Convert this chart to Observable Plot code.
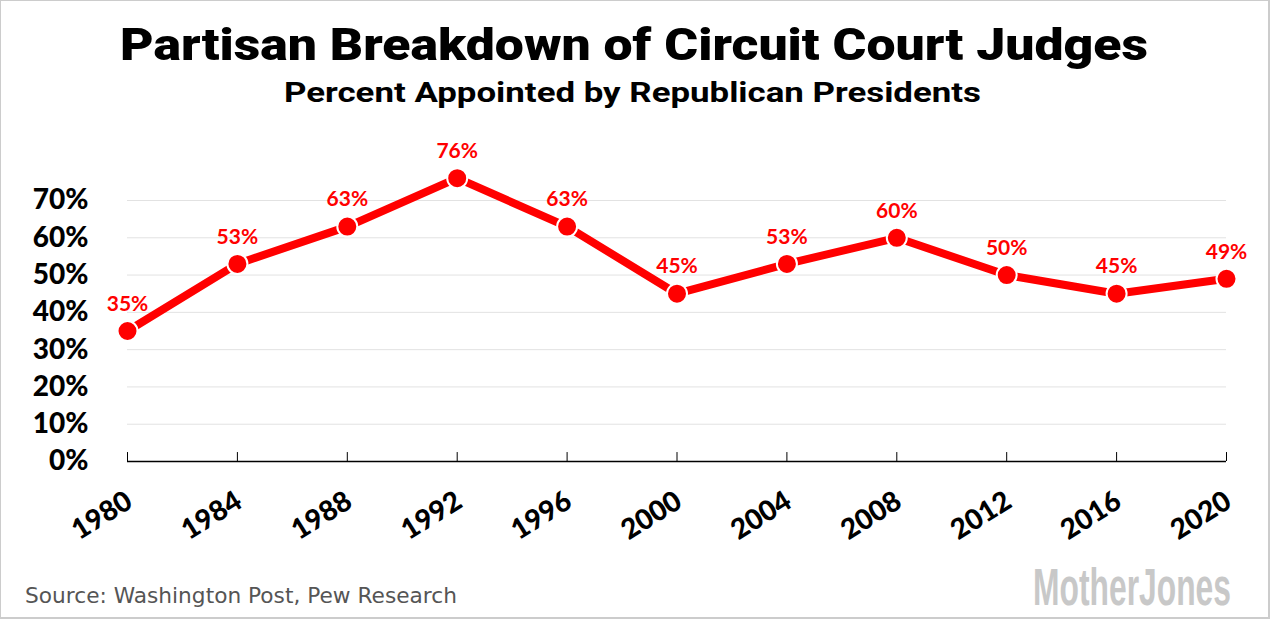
<!DOCTYPE html>
<html>
<head>
<meta charset="utf-8">
<script src="https://cdn.jsdelivr.net/npm/d3@7"></script>
<script src="https://cdn.jsdelivr.net/npm/@observablehq/plot@0.6"></script>
<style>
html, body { margin: 0; padding: 0; background: #fff; }
#wrap { position: relative; width: 1270px; height: 619px; overflow: hidden; background: #fff; }
#border { position: absolute; left: 0; top: 0; width: 1270px; height: 619px; box-sizing: border-box; border: 1px solid #cccccc; border-right-width: 2px; border-bottom-width: 2px; pointer-events: none; }
#head, #plot, #foot { position: absolute; left: 0; }
#head { top: 0; }
#plot { top: 130px; }
#foot { top: 550px; }
svg { display: block; }
</style>
</head>
<body>
<div id="wrap">
  <svg id="head" width="1270" height="130">
    <text x="120" y="60" font-family="Roboto" font-weight="900" font-size="45" fill="#000" textLength="1028" lengthAdjust="spacingAndGlyphs">Partisan Breakdown of Circuit Court Judges</text>
    <text x="284" y="102" font-family="Roboto" font-weight="700" font-size="28" fill="#000" textLength="697" lengthAdjust="spacingAndGlyphs">Percent Appointed by Republican Presidents</text>
  </svg>
  <div id="plot"></div>
  <svg id="foot" width="1270" height="69">
    <text x="25" y="53" font-family="DejaVu Sans" font-size="20.5" fill="#555" textLength="432" lengthAdjust="spacingAndGlyphs">Source: Washington Post, Pew Research</text>
    <text id="logo" font-family="Liberation Sans Narrow, Liberation Sans" font-weight="700" font-size="51" fill="#c8c8c8">MotherJones</text>
  </svg>
  <div id="border"></div>
</div>
<script>
const years = [1980, 1984, 1988, 1992, 1996, 2000, 2004, 2008, 2012, 2016, 2020];
const pct = [35, 53, 63, 76, 63, 45, 53, 60, 50, 45, 49];
const yTicks = [0, 10, 20, 30, 40, 50, 60, 70];

const data = years.map((y, i) => ({year: y, pct: pct[i]}));

const chart = Plot.plot({
  width: 1270,
  height: 420,
  marginLeft: 127,
  marginRight: 44,
  marginTop: 70,
  marginBottom: 89,
  x: {domain: [1980, 2020], axis: null},
  y: {domain: [0, 70], axis: null},
  style: {fontFamily: "Lato", overflow: "visible", background: "transparent"},
  marks: [
    Plot.gridY(yTicks.filter(d => d > 0), {stroke: "#e2e2e2", strokeOpacity: 1, strokeWidth: 1}),
    Plot.axisY(yTicks, {label: null, tickFormat: d => d + "%", tickSize: 0, tickPadding: 39, fontSize: 28, fontWeight: 900, fill: "#000", letterSpacing: 0.5}),
    Plot.ruleY([0], {stroke: "#000", strokeWidth: 1.5}),
    Plot.ruleX(years, {x: d => d, y1: 0, y2: 2.4, stroke: "#000", strokeWidth: 1}),
    Plot.text(years, {x: d => d, y: 0, text: d => String(d), rotate: -32, textAnchor: "end", lineAnchor: "middle", dx: 2, dy: 37, fontSize: 28, fontWeight: 900, fill: "#000", letterSpacing: 0.5}),
    Plot.line(data, {x: "year", y: "pct", stroke: "#ff0000", strokeWidth: 8}),
    Plot.dot(data, {x: "year", y: "pct", r: 10, fill: "#ff0000", stroke: "#fff", strokeWidth: 2}),
    Plot.text(data, {x: "year", y: "pct", text: d => d.pct + "%", dy: -27, fill: "#ff0000", fontSize: 21, fontWeight: 700})
  ]
});
document.getElementById("plot").appendChild(chart);

const logo = document.getElementById("logo");
const natural = logo.getComputedTextLength() || 260;
const sx = 198 / natural;
logo.setAttribute("transform", `translate(1033,55) scale(${sx},1)`);
</script>
</body>
</html>
